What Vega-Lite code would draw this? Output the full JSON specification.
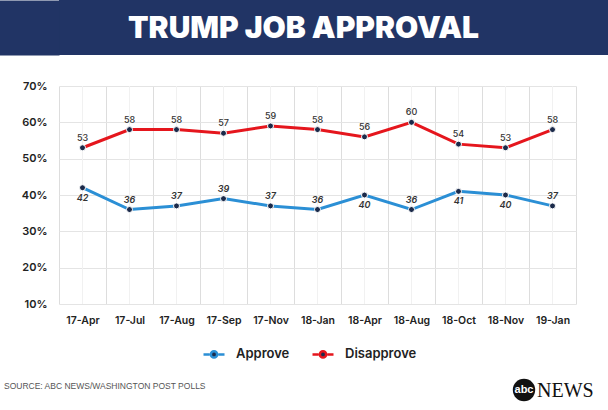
{
  "$schema": "https://vega.github.io/schema/vega-lite/v6.json",
  "background": "white",
  "padding": 0,
  "spacing": 25,
  "config": {
    "view": {"stroke": null},
    "font": "Inter"
  },
  "vconcat": [
    {
      "width": 549,
      "height": 55,
      "view": {"fill": "#213465", "stroke": null},
      "data": {"values": [{"t": "TRUMP JOB APPROVAL"}]},
      "mark": {"type": "text", "font": "Inter", "fontWeight": 900, "fontSize": 30, "color": "white", "align": "center", "baseline": "middle", "dx": -30, "dy": 1},
      "encoding": {
        "text": {"field": "t"},
        "y": {
          "datum": 0,
          "type": "quantitative",
          "scale": {"domain": [-1, 1]},
          "axis": {"title": null, "labels": false, "ticks": false, "grid": false, "domain": true, "domainColor": "#213465", "domainWidth": 61, "domainCap": "butt", "offset": 30.5}
        }
      }
    },
    {
      "width": 517,
      "height": 218,
      "data": {
        "values": [
          {"date": "17-Apr", "series": "Approve", "value": 42},
          {"date": "17-Jul", "series": "Approve", "value": 36},
          {"date": "17-Aug", "series": "Approve", "value": 37},
          {"date": "17-Sep", "series": "Approve", "value": 39},
          {"date": "17-Nov", "series": "Approve", "value": 37},
          {"date": "18-Jan", "series": "Approve", "value": 36},
          {"date": "18-Apr", "series": "Approve", "value": 40},
          {"date": "18-Aug", "series": "Approve", "value": 36},
          {"date": "18-Oct", "series": "Approve", "value": 41},
          {"date": "18-Nov", "series": "Approve", "value": 40},
          {"date": "19-Jan", "series": "Approve", "value": 37},
          {"date": "17-Apr", "series": "Disapprove", "value": 53},
          {"date": "17-Jul", "series": "Disapprove", "value": 58},
          {"date": "17-Aug", "series": "Disapprove", "value": 58},
          {"date": "17-Sep", "series": "Disapprove", "value": 57},
          {"date": "17-Nov", "series": "Disapprove", "value": 59},
          {"date": "18-Jan", "series": "Disapprove", "value": 58},
          {"date": "18-Apr", "series": "Disapprove", "value": 56},
          {"date": "18-Aug", "series": "Disapprove", "value": 60},
          {"date": "18-Oct", "series": "Disapprove", "value": 54},
          {"date": "18-Nov", "series": "Disapprove", "value": 53},
          {"date": "19-Jan", "series": "Disapprove", "value": 58}
        ]
      },
      "encoding": {
        "x": {
          "field": "date",
          "type": "ordinal",
          "sort": null,
          "scale": {"type": "band", "paddingInner": 0, "paddingOuter": 0},
          "axis": {
            "title": null,
            "labelAngle": 0,
            "tickBand": "extent",
            "ticks": false,
            "domain": false,
            "grid": true,
            "gridColor": "#dddddd",
            "labelPadding": 11,
            "labelFont": "Inter",
            "labelFontSize": 10.5,
            "labelFontWeight": 600,
            "labelColor": "#222222"
          }
        },
        "y": {
          "field": "value",
          "type": "quantitative",
          "scale": {"domain": [10, 70], "nice": false, "zero": false},
          "axis": {
            "title": null,
            "values": [10, 20, 30, 40, 50, 60, 70],
            "labelExpr": "datum.value + '%'",
            "labelOverlap": false,
            "domain": false,
            "ticks": false,
            "gridColor": "#e4e4e4",
            "labelPadding": 12,
            "minExtent": 59,
            "maxExtent": 59,
            "labelFont": "Inter",
            "labelFontSize": 11,
            "labelFontWeight": 600,
            "labelColor": "#222222"
          }
        }
      },
      "layer": [
        {
          "mark": {"type": "rule", "color": "#f1f1f1", "strokeWidth": 1},
          "encoding": {
            "y": {"datum": 70, "type": "quantitative"},
            "y2": {"datum": 10}
          }
        },
        {
          "mark": {"type": "line", "strokeWidth": 3},
          "encoding": {
            "color": {
              "field": "series",
              "type": "nominal",
              "scale": {"domain": ["Approve", "Disapprove"], "range": ["#2b8fd5", "#e5161d"]},
              "legend": {
                "orient": "none",
                "legendX": 143,
                "legendY": 342,
                "direction": "horizontal",
                "title": null,
                "symbolType": "M-1,0L-0.42,0M0.42,0L1,0M0.3,0A0.3,0.3,0,1,1,-0.3,0A0.3,0.3,0,1,1,0.3,0Z",
                "symbolSize": 441,
                "symbolStrokeWidth": 2.5,
                "labelFont": "Inter",
                "labelFontSize": 13,
                "labelFontWeight": 600,
                "labelColor": "#222222",
                "labelOffset": 10,
                "columnPadding": 17,
                "encode": {"symbols": {"update": {"fill": {"value": "#1d2c4c"}, "fillOpacity": {"value": 1}}}}
              }
            }
          }
        },
        {
          "mark": {"type": "point", "filled": true, "size": 36, "color": "#1b2a4a", "stroke": "white", "strokeWidth": 1, "opacity": 1}
        },
        {
          "transform": [{"filter": "datum.series == 'Disapprove'"}],
          "mark": {"type": "text", "dy": -10, "fontSize": 9, "font": "Inter", "fontWeight": 500, "color": "#333333"},
          "encoding": {"text": {"field": "value", "type": "quantitative"}}
        },
        {
          "transform": [{"filter": "datum.series == 'Approve' && datum.value >= 40"}],
          "mark": {"type": "text", "dy": 10, "fontSize": 9, "font": "Inter", "fontWeight": 600, "fontStyle": "italic", "color": "#333333"},
          "encoding": {"text": {"field": "value", "type": "quantitative"}}
        },
        {
          "transform": [{"filter": "datum.series == 'Approve' && datum.value < 40"}],
          "mark": {"type": "text", "dy": -10, "fontSize": 9, "font": "Inter", "fontWeight": 600, "fontStyle": "italic", "color": "#333333"},
          "encoding": {"text": {"field": "value", "type": "quantitative"}}
        }
      ]
    },
    {
      "width": 549,
      "height": 48,
      "layer": [
        {
          "data": {"values": [{"t": "SOURCE: ABC NEWS/WASHINGTON POST POLLS"}]},
          "mark": {"type": "text", "align": "left", "baseline": "middle", "x": -55, "y": 35, "font": "Liberation Sans", "fontSize": 8.5, "color": "#555555"},
          "encoding": {"text": {"field": "t"}}
        },
        {
          "data": {"values": [{"t": "logo"}]},
          "mark": {"type": "point", "shape": "circle", "filled": true, "size": 500, "x": 465, "y": 39, "color": "#111111", "opacity": 1}
        },
        {
          "data": {"values": [{"t": "abc"}]},
          "mark": {"type": "text", "align": "center", "baseline": "middle", "x": 465, "y": 39, "font": "Liberation Sans", "fontWeight": "bold", "fontSize": 11, "color": "white"},
          "encoding": {"text": {"field": "t"}}
        },
        {
          "data": {"values": [{"t": "NEWS"}]},
          "mark": {"type": "text", "align": "left", "baseline": "middle", "x": 478, "y": 40, "font": "Liberation Serif", "fontSize": 20, "color": "#111111"},
          "encoding": {"text": {"field": "t"}}
        }
      ]
    }
  ]
}
